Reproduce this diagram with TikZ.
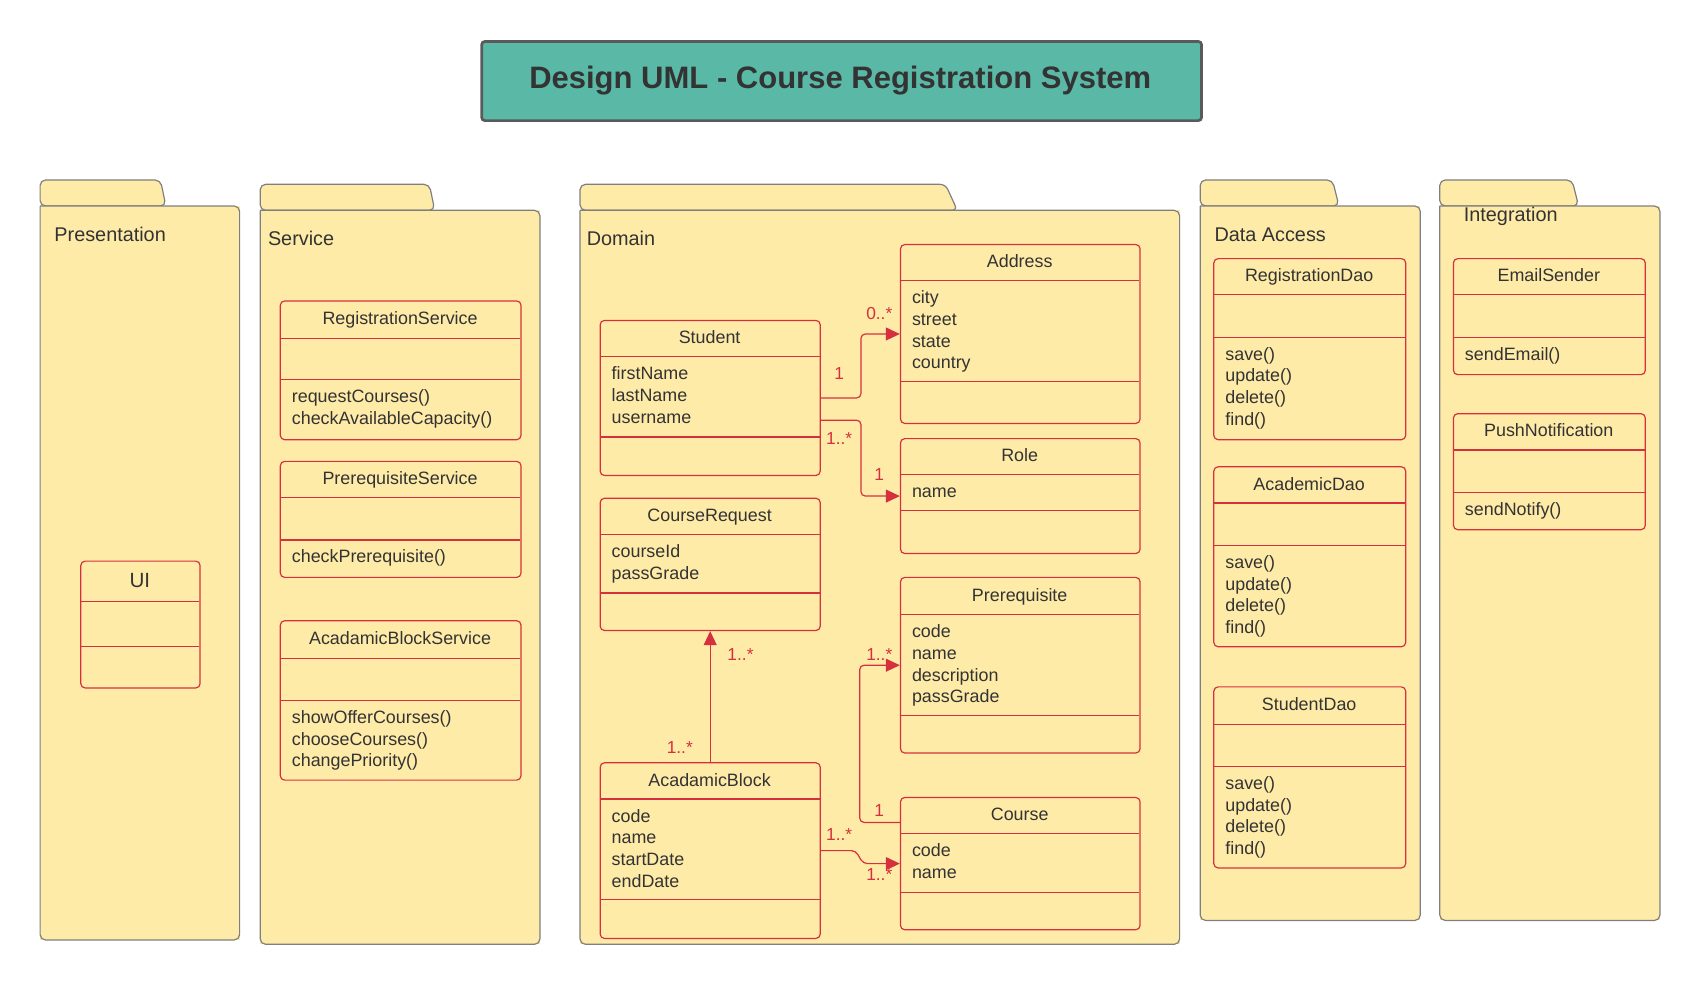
\documentclass[tikz,border=0pt]{standalone}
\usepackage{fontspec}
\setmainfont{Liberation Sans}
\usetikzlibrary{arrows.meta}
\definecolor{pkgfill}{HTML}{FFEBA8}
\definecolor{pkgdraw}{HTML}{7F7F7F}
\definecolor{clsred}{HTML}{D6303E}
\definecolor{txt}{HTML}{333333}
\definecolor{titlefill}{HTML}{5AB9A6}
\definecolor{titledraw}{HTML}{5A5A5A}
\tikzset{
  pkg/.style={draw=pkgdraw, fill=pkgfill, line width=1.1pt, line join=round},
  classbox/.style={draw=clsred, rounded corners=4pt, line width=1.1pt, inner sep=0pt, anchor=north west},
  clsline/.style={draw=clsred, line width=1.1pt},
  clstitle/.style={font=\fontsize{16.5}{20}\selectfont, text=txt, inner sep=0pt, anchor=base},
  clstext/.style={font=\fontsize{16.5}{20}\selectfont, text=txt, inner sep=0pt, align=left, anchor=north west},
  pkglabel/.style={font=\fontsize{18.3}{22}\selectfont, text=txt, inner sep=0pt, anchor=base west},
  mult/.style={font=\fontsize{16}{19}\selectfont, text=clsred, inner sep=0pt, anchor=base},
  assoc/.style={draw=clsred, line width=1.1pt, rounded corners=4pt, -{Triangle[length=13pt,width=12pt]}},
}
% name, x1, y1, x2, y2, line1, line2, title
\newcommand\umlclass[8]{%
  \node[classbox, minimum width={(#4-#2)*1pt}, minimum height={(#5-#3)*1pt}] (#1) at (#2,#3) {};
  \draw[clsline] (#2,#6) -- (#4,#6);
  \draw[clsline] (#2,#7) -- (#4,#7);
  \node[clstitle] (#1-title) at ({(#2+#4)/2},{(#3+#6)/2+5}) {#8};
}
% name, x, compartment line y, text
\newcommand\umlbody[4]{%
  \node[clstext] (#1-body) at (#2+11,#3+7) {\rule{0pt}{14pt}#4};
}
% x0, tabTop, tabR, slantR, bodyTop, x1, bottom
\newcommand\umlpkg[7]{%
  \draw[pkg, rounded corners=5pt] (#1,#5) -- (#1,#2) -- (#3,#2) -- (#4,#5) -- cycle;
  \fill[pkgfill] (#1,#5) rectangle (#6,#7);
  \draw[pkg, fill=none, rounded corners=5pt] (#1,#5) -- (#6,#5) -- (#6,#7) -- (#1,#7) -- (#1,#5);
}
\begin{document}
\begin{tikzpicture}[x=1pt, y=-1pt]
\useasboundingbox (0,0) rectangle (1568,907.6);

% title
\node[draw=titledraw, fill=titlefill, line width=2.5pt, rounded corners=3pt,
      minimum width=664pt, minimum height=73pt, inner sep=0pt, anchor=north west] (titlebox) at (443,37) {};
\node[font=\bfseries\fontsize{28.6}{34}\selectfont, text=txt, inner sep=0pt, anchor=base] (titletext) at (775,81.5) {Design UML - Course Registration System};

% packages
\umlpkg{37}{166}{148}{153}{190}{221}{867}
\umlpkg{240}{170}{396}{401}{194}{498}{871}
\umlpkg{535}{170}{872}{883}{194}{1088}{871}
\umlpkg{1107}{166}{1229}{1235}{190}{1310}{849}
\umlpkg{1328}{166}{1450}{1456}{190}{1531}{849}

\node[pkglabel] (lpres) at (50,222.5) {Presentation};
\node[pkglabel] (lserv) at (247,226.5) {Service};
\node[pkglabel] (ldom) at (541,226.5) {Domain};
\node[pkglabel] (ldata) at (1120,222.5) {Data Access};
\node[pkglabel] (lint) at (1350,204.5) {Integration};

% Presentation
\node[classbox, minimum width=110pt, minimum height=117pt] (ui) at (74,517) {};
\draw[clsline] (74,555) -- (184,555);
\draw[clsline] (74,596) -- (184,596);
\node[clstitle, font=\fontsize{19}{22}\selectfont] (ui-title) at (129,542) {UI};

% Service
\umlclass{regserv}{258}{277}{480}{405}{312}{350}{RegistrationService}
\umlbody{regserv}{258}{350}{requestCourses()\\checkAvailableCapacity()}
\umlclass{preserv}{258}{425}{480}{532}{459}{498}{PrerequisiteService}
\umlbody{preserv}{258}{498}{checkPrerequisite()}
\umlclass{abserv}{258}{572}{480}{719}{607}{646}{AcadamicBlockService}
\umlbody{abserv}{258}{646}{showOfferCourses()\\chooseCourses()\\changePriority()}

% Domain
\umlclass{student}{553}{295}{756}{438}{329}{403}{Student}
\umlbody{student}{553}{329}{firstName\\lastName\\username}
\umlclass{creq}{553}{459}{756}{581}{493}{547}{CourseRequest}
\umlbody{creq}{553}{493}{courseId\\passGrade}
\umlclass{ablock}{553}{703}{756}{865}{737}{830}{AcadamicBlock}
\umlbody{ablock}{553}{737}{code\\name\\startDate\\endDate}
\umlclass{address}{830}{225}{1051}{390}{259}{352}{Address}
\umlbody{address}{830}{259}{city\\street\\state\\country}
\umlclass{role}{830}{404}{1051}{510}{438}{471}{Role}
\umlbody{role}{830}{438}{name}
\umlclass{prereq}{830}{532}{1051}{694}{567}{660}{Prerequisite}
\umlbody{prereq}{830}{567}{code\\name\\description\\passGrade}
\umlclass{course}{830}{735}{1051}{857}{769}{823}{Course}
\umlbody{course}{830}{769}{code\\name}

% Data Access
\umlclass{regdao}{1119}{238}{1296}{405}{272}{311}{RegistrationDao}
\umlbody{regdao}{1119}{311}{save()\\update()\\delete()\\find()}
\umlclass{acdao}{1119}{430}{1296}{596}{464}{503}{AcademicDao}
\umlbody{acdao}{1119}{503}{save()\\update()\\delete()\\find()}
\umlclass{stdao}{1119}{633}{1296}{800}{668}{707}{StudentDao}
\umlbody{stdao}{1119}{707}{save()\\update()\\delete()\\find()}

% Integration
\umlclass{email}{1340}{238}{1517}{345}{272}{311}{EmailSender}
\umlbody{email}{1340}{311}{sendEmail()}
\umlclass{push}{1340}{381}{1517}{488}{415}{454}{PushNotification}
\umlbody{push}{1340}{454}{sendNotify()}

% associations
\draw[assoc] (student.east) -- ++(37,0) |- (address.west);
\draw[assoc] ([yshift=-20.5pt]student.east) -- ++(37,0) |- (role.west);
\draw[assoc] (ablock.north) -- (creq.south);
\draw[assoc] ([yshift=38pt]course.west) -- ++(-37,0) |- (prereq.west);
\draw[assoc] (ablock.east) -- ++(32,0) -- ++(7,12) -- (course.west);

% multiplicities
\node[mult] (m1) at (774,350) {1};
\node[mult] (m2) at (811,295) {0..*};
\node[mult] (m3) at (774,410) {1..*};
\node[mult] (m4) at (811,443) {1};
\node[mult] (m5) at (683,609) {1..*};
\node[mult] (m6) at (627,695) {1..*};
\node[mult] (m7) at (811,753) {1};
\node[mult] (m8) at (811,609) {1..*};
\node[mult] (m9) at (774,775) {1..*};
\node[mult] (m10) at (811,812) {1..*};
\end{tikzpicture}
\end{document}
